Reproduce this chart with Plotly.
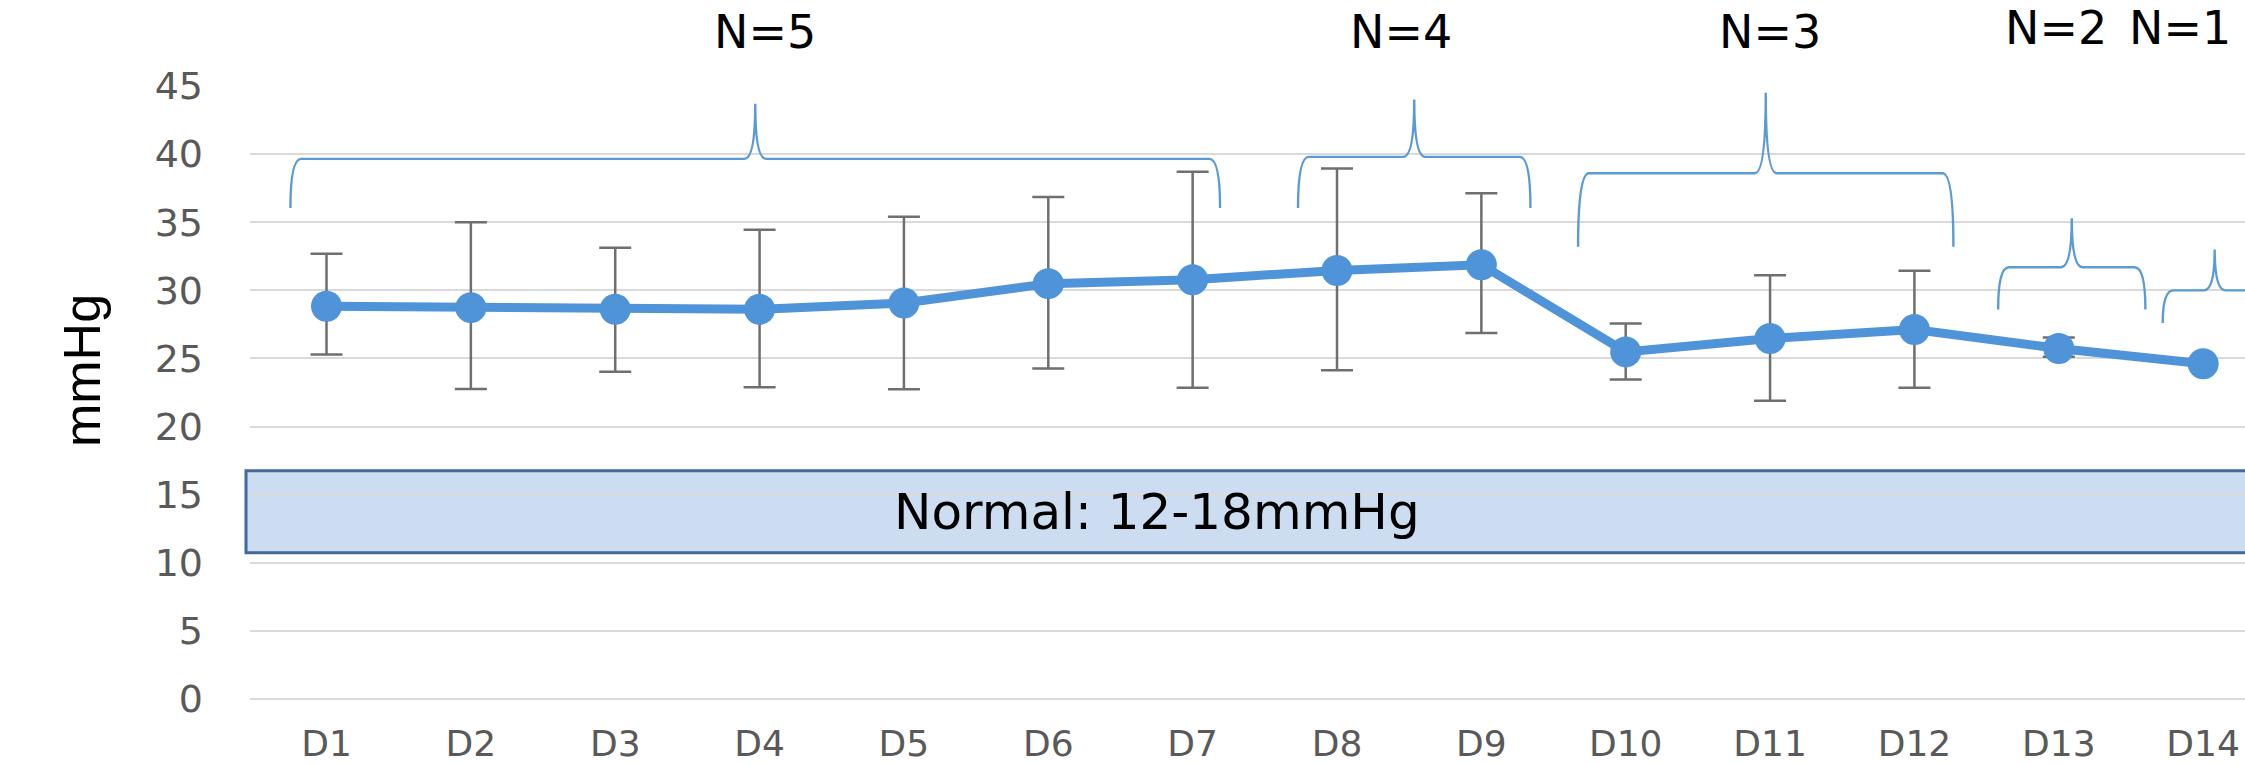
import plotly.graph_objects as go

# ---------------- data ----------------
days = ["D1", "D2", "D3", "D4", "D5", "D6", "D7", "D8", "D9", "D10", "D11", "D12", "D13", "D14"]
mean_mmhg = [28.83, 28.73, 28.61, 28.61, 29.07, 30.49, 30.78, 31.46, 31.88, 25.48, 26.46, 27.12, 25.73, 24.61]
# error bars (D14 has N=1, no error bar)
err_upper = [3.85, 6.27, 4.51, 5.83, 6.34, 6.36, 7.92, 7.49, 5.24, 2.08, 4.64, 4.31, 0.81]
err_lower = [3.54, 5.98, 4.59, 5.73, 6.34, 6.22, 7.93, 7.32, 5.01, 2.02, 4.56, 4.27, 0.61]

y_ticks = [0, 5, 10, 15, 20, 25, 30, 35, 40, 45]

group_labels = ["N=5", "N=4", "N=3", "N=2", "N=1"]
group_first = ["D1", "D8", "D10", "D13", "D14"]
group_last = ["D7", "D9", "D12", "D13", "D14"]

normal_low, normal_high = 10.74, 16.76   # band as drawn
normal_text = "Normal: 12-18mmHg"

# ---------------- layout parameters ----------------
W, H = 2245, 764
BLUE = "#4F94D9"
BRACE_BLUE = "#5B9BD5"
GRID = "#DADADA"
TICK_COL = "#595959"

# brace geometry: (left offset, right offset, y of ends, y of bar, y of tip)
brace_geom = [
    (-0.25, 0.19, 36.05, 39.65, 43.7),
    (-0.27, 0.34, 36.05, 39.8, 44.0),
    (-0.33, 0.27, 33.2, 38.6, 44.5),
    (-0.42, 0.60, 28.6, 31.7, 35.3),
    (-0.28, 0.44, 27.6, 30.0, 33.0),
]
# label positions (x in category units, y in paper units, anchor)
label_pos = [
    (3.04, 1.088, "center"),
    (7.44, 1.088, "center"),
    (10.0, 1.088, "center"),
    (11.98, 1.094, "center"),
    (12.47, 1.094, "left"),
]

idx = list(range(len(days)))
pos = {d: i for i, d in enumerate(days)}

fig = go.Figure()

# error bars (own trace so D14 gets none)
fig.add_trace(go.Scatter(
    x=idx[:len(err_upper)], y=mean_mmhg[:len(err_upper)],
    mode="markers", marker=dict(size=1, color="rgba(0,0,0,0)"),
    error_y=dict(type="data", symmetric=False, array=err_upper, arrayminus=err_lower,
                 color="#6F6F6F", thickness=2.5, width=16),
    showlegend=False, hoverinfo="skip",
))

fig.add_trace(go.Scatter(
    x=idx, y=mean_mmhg, mode="lines+markers",
    line=dict(color=BLUE, width=9),
    marker=dict(color=BLUE, size=31),
    showlegend=False,
))

shapes = []
# normal range band
shapes.append(dict(
    type="rect", xref="paper", yref="y", x0=-0.002, x1=1.02, y0=normal_low, y1=normal_high,
    fillcolor="#CCDDF1", line=dict(color="#41699A", width=3), layer="below",
))

# braces
dx = 0.075
for (g0, g1), (lo, ro, ye, yh, yp) in zip(zip(group_first, group_last), brace_geom):
    x0 = pos[g0] + lo
    x1 = pos[g1] + ro
    xp = (x0 + x1) / 2
    path = (f"M {x0},{ye} Q {x0},{yh} {x0+dx},{yh} L {xp-dx},{yh} "
            f"Q {xp},{yh} {xp},{yp} Q {xp},{yh} {xp+dx},{yh} "
            f"L {x1-dx},{yh} Q {x1},{yh} {x1},{ye}")
    shapes.append(dict(type="path", xref="x", yref="y", path=path,
                       line=dict(color=BRACE_BLUE, width=2.4), layer="above"))

annotations = []
for lab, (lx, ly, anc) in zip(group_labels, label_pos):
    annotations.append(dict(
        text=lab, x=lx, y=ly, xref="x", yref="paper", xanchor=anc, yanchor="middle",
        showarrow=False, font=dict(family="DejaVu Sans", size=46, color="black"),
    ))

annotations.append(dict(
    text=normal_text, x=5.75, y=(normal_low + normal_high) / 2, xref="x", yref="y",
    xanchor="center", yanchor="middle", showarrow=False,
    font=dict(family="DejaVu Sans", size=50, color="black"),
))

annotations.append(dict(
    text="mmHg", x=(82 - 250) / 1995, y=0.535, xref="paper", yref="paper", textangle=-90,
    xanchor="center", yanchor="middle", showarrow=False,
    font=dict(family="Liberation Sans, Arial", size=52, color="black"),
))

fig.update_layout(
    width=W, height=H,
    margin=dict(l=250, r=0, t=86, b=65, pad=0),
    paper_bgcolor="white", plot_bgcolor="white",
    shapes=shapes, annotations=annotations,
    xaxis=dict(
        range=[-0.53, 13.29], tickmode="array", tickvals=idx, ticktext=days,
        showgrid=False, zeroline=False, showline=False, automargin=False,
        tickfont=dict(family="DejaVu Sans", size=36, color=TICK_COL),
        ticks="", ticklabelstandoff=20,
    ),
    yaxis=dict(
        range=[0, 45], tickmode="array", tickvals=y_ticks, automargin=False,
        showgrid=True, gridcolor=GRID, gridwidth=2,
        zeroline=True, zerolinecolor=GRID, zerolinewidth=2, showline=False,
        tickfont=dict(family="DejaVu Sans", size=38, color=TICK_COL),
        ticks="", ticklabelstandoff=46,
    ),
)

fig.write_html("out.html")
